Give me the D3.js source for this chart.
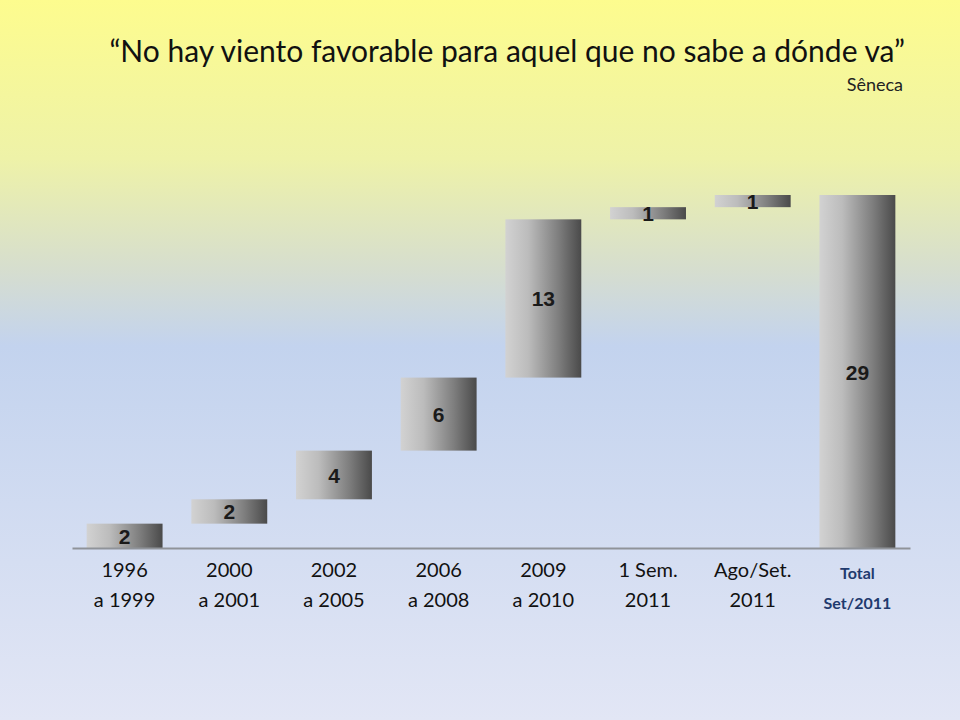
<!DOCTYPE html>
<html>
<head>
<meta charset="utf-8">
<script src="https://cdn.jsdelivr.net/npm/d3@7"></script>
<style>
  body { margin: 0; }
  svg { display: block; }
</style>
</head>
<body>
<div id="chart-area"></div>
<script>
// Data
const periods = ['1996|a 1999', '2000|a 2001', '2002|a 2005', '2006|a 2008', '2009|a 2010', '1 Sem.|2011', 'Ago/Set.|2011', 'Total|Set/2011']
const increments = [2, 2, 4, 6, 13, 1, 1]
const total = 29

const canvas = { width: 960, height: 720 }
const margin = { left: 72, right: 50, top: 195, bottom: 172 }
const plot = {
	width: canvas.width - margin.left - margin.right,
	height: canvas.height - margin.top - margin.bottom
}

// running sums for the waterfall
let acc = 0
const bars = increments.map((v, i) => {
	const b = { key: periods[i], start: acc, end: acc + v, value: v }
	acc += v
	return b
})
bars.push({ key: periods[periods.length - 1], start: 0, end: total, value: total, total: true })

const svg = d3.select('#chart-area')
	.append('svg')
		.attr('width', canvas.width)
		.attr('height', canvas.height)

const defs = svg.append('defs')
const bg = defs.append('linearGradient')
	.attr('id', 'bg')
	.attr('x1', 0).attr('y1', 0).attr('x2', 0).attr('y2', 1)
bg.append('stop').attr('offset', '0%').attr('stop-color', '#fdfc8e')
bg.append('stop').attr('offset', '22%').attr('stop-color', '#eef2a8')
bg.append('stop').attr('offset', '38%').attr('stop-color', '#d5ddd0')
bg.append('stop').attr('offset', '48%').attr('stop-color', '#c3d3ee')
bg.append('stop').attr('offset', '100%').attr('stop-color', '#e2e6f5')

const barFill = defs.append('linearGradient')
	.attr('id', 'barFill')
	.attr('x1', 0).attr('y1', 0).attr('x2', 1).attr('y2', 0)
barFill.append('stop').attr('offset', '0%').attr('stop-color', '#d2d2d2')
barFill.append('stop').attr('offset', '30%').attr('stop-color', '#bcbcbc')
barFill.append('stop').attr('offset', '70%').attr('stop-color', '#7e7e7e')
barFill.append('stop').attr('offset', '100%').attr('stop-color', '#4a4a4a')

svg.append('rect')
	.attr('width', canvas.width)
	.attr('height', canvas.height)
	.attr('fill', 'url(#bg)')

// Title
svg.append('text')
	.attr('x', 905)
	.attr('y', 62)
	.attr('text-anchor', 'end')
	.attr('font-family', 'Lato, "Open Sans", sans-serif')
	.attr('font-size', '30px')
	.attr('fill', '#111')
	.text('\u201CNo hay viento favorable para aquel que no sabe a dónde va\u201D')
svg.append('text')
	.attr('x', 903)
	.attr('y', 91)
	.attr('text-anchor', 'end')
	.attr('font-family', 'Lato, "Open Sans", sans-serif')
	.attr('font-size', '18px')
	.attr('fill', '#222')
	.text('Sêneca')

const g = svg.append('g')
	.attr('transform', `translate(${margin.left}, ${margin.top})`)

// Scales
const x = d3.scaleBand()
	.domain(periods)
	.range([0, plot.width])
	.paddingInner(0.275)
	.paddingOuter(0.14)
const y = d3.scaleLinear()
	.domain([0, total])
	.range([plot.height, 0])

// Bars
g.selectAll('rect.bar')
	.data(bars)
	.enter()
	.append('rect')
		.attr('class', 'bar')
		.attr('x', d => x(d.key))
		.attr('y', d => y(d.end))
		.attr('width', x.bandwidth())
		.attr('height', d => y(d.start) - y(d.end))
		.attr('fill', 'url(#barFill)')

g.selectAll('text.val')
	.data(bars)
	.enter()
	.append('text')
		.attr('class', 'val')
		.attr('x', d => x(d.key) + x.bandwidth() / 2)
		.attr('y', d => (y(d.start) + y(d.end)) / 2 + 8)
		.attr('text-anchor', 'middle')
		.attr('font-family', '"Liberation Sans", Arial, sans-serif')
		.attr('font-weight', 'bold')
		.attr('font-size', '21px')
		.attr('fill', '#1a1a1a')
		.text(d => d.value)

// Axis
const xAxis = d3.axisBottom(x).tickSize(0).tickFormat('')
const axisG = g.append('g')
	.attr('transform', `translate(0, ${plot.height})`)
	.call(xAxis)
axisG.select('.domain')
	.attr('stroke', '#8f9399')
	.attr('stroke-width', 2)

// Category labels
const cat = g.selectAll('text.cat')
	.data(periods)
	.enter()
	.append('text')
		.attr('class', 'cat')
		.attr('x', d => x(d) + x.bandwidth() / 2)
		.attr('text-anchor', 'middle')
		.attr('font-family', 'Lato, "Open Sans", sans-serif')
		.attr('font-size', (d, i) => i === periods.length - 1 ? '16px' : '20px')
		.attr('font-weight', (d, i) => i === periods.length - 1 ? 'bold' : 'normal')
		.attr('fill', (d, i) => i === periods.length - 1 ? '#1f3a6e' : '#111')
cat.each(function(d, i) {
	const lines = d.split('|')
	const last = i === periods.length - 1
	d3.select(this).selectAll('tspan')
		.data(lines)
		.enter()
		.append('tspan')
			.attr('x', x(d) + x.bandwidth() / 2)
			.attr('y', (l, j) => plot.height + (last ? 31 : 29) + j * 30)
			.text(l => l)
})
</script>
</body>
</html>
